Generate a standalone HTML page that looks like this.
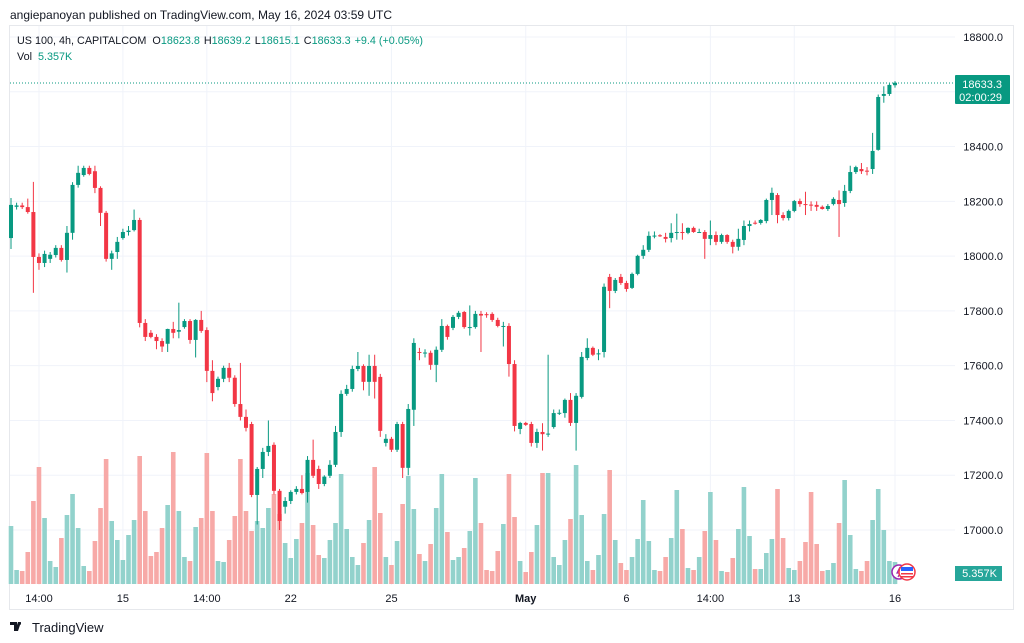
<!DOCTYPE html>
<html><head><meta charset="utf-8"><style>
html,body{margin:0;padding:0;background:#fff;}
svg{display:block;font-family:"Liberation Sans",sans-serif;}
</style></head><body>
<svg id="chart" width="1024" height="643" viewBox="0 0 1024 643" xmlns="http://www.w3.org/2000/svg">
<rect width="1024" height="643" fill="#fff"/>
<text x="10" y="19" font-size="12" fill="#131722">angiepanoyan published on TradingView.com, May 16, 2024 03:59 UTC</text>
<rect x="9.5" y="25.5" width="1004" height="584" fill="none" stroke="#e6e8ec"/>
<g id="grid"></g>
<line x1="10" y1="83" x2="955" y2="83" stroke="#089981" stroke-dasharray="1,2"/>
<g id="vols"></g>
<g id="candles"></g>
<g id="yaxis"></g>
<g id="xaxis"></g>
<g font-size="10.8">
<text x="17" y="44" fill="#131722">US 100, 4h, CAPITALCOM <tspan dx="3" fill="#131722">O</tspan><tspan fill="#089981">18623.8</tspan><tspan dx="4" fill="#131722">H</tspan><tspan fill="#089981">18639.2</tspan><tspan dx="4" fill="#131722">L</tspan><tspan fill="#089981">18615.1</tspan><tspan dx="4" fill="#131722">C</tspan><tspan fill="#089981">18633.3</tspan><tspan dx="4" fill="#089981">+9.4 (+0.05%)</tspan></text>
<text x="17" y="60" fill="#131722">Vol <tspan dx="3" fill="#089981">5.357K</tspan></text>
</g>
<g>
<rect x="955" y="75" width="55" height="29" rx="1" fill="#089981"/>
<text x="1002" y="88" font-size="11" fill="#fff" text-anchor="end">18633.3</text>
<text x="1002" y="101" font-size="11" fill="#fff" text-anchor="end">02:00:29</text>
</g>
<g>
<rect x="955" y="566" width="47" height="15" fill="#26a69a"/>
<text x="997" y="577" font-size="11" fill="#fff" text-anchor="end">5.357K</text>
</g>
<g>
<circle cx="899" cy="572" r="7" fill="#fff" stroke="#9c27b0" stroke-width="1.5"/>
<path d="M900 567 l-3 6 h3 l-2 4" stroke="#9c27b0" fill="none" stroke-width="1.2"/>
<circle cx="907" cy="572" r="8" fill="#fff" stroke="#f23645" stroke-width="1.5"/>
<rect x="901" y="567" width="12" height="4" fill="#2962ff"/>
<rect x="901" y="573" width="12" height="1.5" fill="#f23645"/>
<rect x="901" y="576" width="12" height="1.5" fill="#f23645"/>
</g>
<g>
<path d="M10 622 h7 v9 h-3 v-6 h-4z M18 622 h3 l-3 9 h-3z" fill="#131722"/>
<circle cx="19.5" cy="623.5" r="1.5" fill="#131722"/>
<text x="32" y="632" font-size="13" fill="#131722">TradingView</text>
</g>
<script>
const opens=[18066,18180,18185,18179,18161,17997,17975,17990,18004,18030,17986,18085,18260,18296,18322,18310,18249,18158,17990,18015,18066,18088,18095,18132,17756,17720,17705,17690,17680,17734,17724,17741,17763,17694,17767,17730,17581,17522,17552,17592,17556,17460,17413,17387,17128,17223,17285,17311,17143,17085,17106,17139,17150,17139,17256,17223,17168,17198,17238,17358,17497,17515,17588,17599,17541,17599,17559,17318,17333,17293,17387,17227,17439,17650,17648,17647,17603,17658,17745,17738,17778,17796,17741,17741,17789,17788,17789,17767,17745,17745,17606,17369,17391,17387,17318,17358,17350,17376,17427,17427,17475,17391,17486,17628,17665,17643,17650,17924,17873,17924,17902,17884,17935,18001,18023,18074,18076,18070,18066,18088,18088,18085,18103,18088,18088,18063,18077,18052,18077,18052,18034,18059,18110,18122,18121,18128,18205,18223,18150,18139,18165,18201,18190,18188,18187,18180,18172,18190,18205,18194,18238,18307,18318,18312,18318,18388,18585,18592,18624];
const highs=[18212,18195,18195,18210,18271,18010,18020,18015,18040,18040,18110,18270,18330,18330,18330,18330,18255,18165,18020,18070,18100,18110,18170,18140,17770,17730,17715,17700,17735,17760,17830,17770,17770,17770,17800,17740,17620,17560,17600,17610,17565,17610,17440,17395,17230,17300,17400,17320,17150,17120,17145,17160,17200,17270,17330,17235,17200,17255,17380,17510,17530,17600,17650,17605,17640,17640,17570,17350,17340,17395,17395,17460,17700,17665,17660,17655,17670,17770,17750,17785,17800,17800,17820,17800,17800,17795,17795,17775,17760,17755,17620,17395,17395,17395,17370,17390,17640,17440,17440,17480,17500,17500,17650,17700,17670,17660,17900,17935,17920,17935,17910,17940,18005,18040,18090,18090,18080,18085,18120,18155,18120,18105,18108,18100,18095,18130,18090,18082,18080,18060,18100,18130,18130,18130,18135,18210,18250,18230,18160,18170,18205,18210,18235,18200,18200,18185,18190,18215,18240,18260,18330,18330,18340,18325,18450,18590,18620,18630,18639];
const lows=[18026,18170,18172,18155,17866,17950,17960,17975,17995,17980,17940,18060,18250,18290,18295,18230,18110,17980,17950,17990,18060,18075,18090,17740,17690,17700,17660,17650,17650,17700,17700,17735,17680,17630,17720,17540,17470,17510,17540,17540,17450,17400,17360,17120,17020,17190,17270,17130,17000,17060,17095,17130,17130,17100,17190,17150,17160,17190,17230,17340,17490,17505,17580,17510,17490,17480,17340,17305,17285,17285,17190,17200,17380,17620,17630,17585,17540,17650,17695,17730,17770,17735,17710,17735,17650,17775,17760,17740,17670,17560,17360,17350,17380,17305,17300,17290,17340,17370,17420,17410,17380,17290,17480,17620,17635,17620,17630,17810,17865,17895,17870,17880,17930,17990,18015,18065,18070,18050,18050,18060,18060,18080,18085,18085,17990,18040,18040,18045,18045,18010,18020,18040,18090,18115,18115,18120,18150,18120,18130,18130,18160,18180,18150,18165,18165,18170,18165,18185,18070,18180,18230,18300,18300,18295,18300,18385,18560,18585,18615];
const closes=[18187,18185,18179,18161,17997,17975,18008,18005,18030,17986,18085,18260,18304,18322,18300,18249,18158,17990,18010,18052,18088,18093,18132,17756,17705,17705,17690,17670,17734,17720,17730,17763,17694,17767,17727,17581,17500,17552,17592,17556,17460,17413,17373,17128,17223,17285,17307,17143,17033,17106,17139,17150,17135,17256,17198,17168,17195,17238,17358,17497,17515,17588,17599,17541,17599,17541,17362,17333,17293,17387,17227,17442,17683,17647,17648,17603,17658,17745,17705,17778,17793,17741,17741,17789,17783,17786,17767,17745,17745,17606,17380,17391,17384,17318,17358,17350,17352,17427,17428,17475,17391,17490,17632,17665,17640,17645,17888,17873,17913,17902,17880,17935,18001,18023,18074,18075,18074,18063,18085,18088,18087,18103,18088,18088,18063,18077,18052,18077,18052,18034,18063,18110,18117,18120,18132,18205,18231,18150,18139,18165,18201,18190,18188,18187,18180,18172,18183,18209,18190,18238,18307,18325,18310,18310,18384,18581,18592,18625,18633];
const volumes=[58,14,13,32,83,117,66,23,17,46,69,90,56,18,13,43,76,125,63,44,24,49,64,128,73,28,32,56,79,132,73,27,23,57,66,131,73,23,22,44,68,125,73,53,63,56,76,90,70,41,26,45,61,111,59,29,26,44,61,110,55,27,19,41,64,117,71,27,19,43,80,108,75,30,23,40,76,110,52,24,27,36,53,106,61,14,13,33,60,110,67,23,12,32,59,111,111,27,19,44,65,119,69,23,14,29,70,114,44,21,14,27,45,84,43,14,13,27,46,94,55,16,14,27,53,92,44,13,12,26,55,97,48,15,15,31,45,95,46,16,14,23,42,92,40,13,14,21,61,104,49,15,13,23,64,95,54,23,22];
const priceTicks=[18800,18600,18400,18200,18000,17800,17600,17400,17200,17000];
const timeLabels=["14:00","15","14:00","22","25","May","6","14:00","13","16"];
const timeIdx=[5,20,35,50,68,92,110,125,140,158];

const NS="http://www.w3.org/2000/svg";
const X0=11, X1=895;
const xs=i=>X0+i*(X1-X0)/(closes.length-1);
const ys=p=>37+(18800-p)*(54.78/200);
const vBase=584, vMaxPx=132;
const vmax=Math.max(...volumes);
const vy=v=>vBase-v/vmax*vMaxPx;
function mk(tag,attrs,parent){const e=document.createElementNS(NS,tag);for(const k in attrs)e.setAttribute(k,attrs[k]);parent.appendChild(e);return e;}
const G=document.getElementById('grid'),C=document.getElementById('candles'),V=document.getElementById('vols'),YA=document.getElementById('yaxis'),XA=document.getElementById('xaxis');
priceTicks.forEach(p=>{
  const l=mk('line',{x1:10,x2:955,y1:ys(p),y2:ys(p),stroke:'#f0f3fa'},G);
  
  
  const t=mk('text',{x:1003,y:ys(p)+4,'font-size':11,fill:'#131722','text-anchor':'end'},YA);
  t.textContent=p.toFixed(1);
  
  
});
timeLabels.forEach((s,k)=>{
  const x=xs(timeIdx[k]);
  const l=mk('line',{x1:x,x2:x,y1:26,y2:585,stroke:'#f0f3fa'},G);
  
  
  const t=mk('text',{x:x,y:602,'font-size':11,fill:'#131722','text-anchor':'middle','font-weight':s==='May'?'bold':'normal'},XA);
  t.textContent=s;
  
  
});
volumes.forEach((v,i)=>{
  const up=closes[i]>=opens[i];
  const r=mk('rect',{x:xs(i)-2.3,y:vy(v),width:4.6,height:vBase-vy(v),fill:up?'#92d2cc':'#f7a9a7'},V);
  
  
});
closes.forEach((c,i)=>{
  const o=opens[i],up=c>=o,col=up?'#089981':'#f23645',x=xs(i);
  const w=mk('line',{x1:x,x2:x,y1:ys(highs[i]),y2:ys(lows[i]),stroke:col,'stroke-width':1},C);
  
  
  const top=ys(Math.max(o,c)),h=Math.max(1,ys(Math.min(o,c))-top);
  const b=mk('rect',{x:x-2,y:top,width:4,height:h,fill:col},C);
  
  
});
</script>
</svg>
</body></html>
